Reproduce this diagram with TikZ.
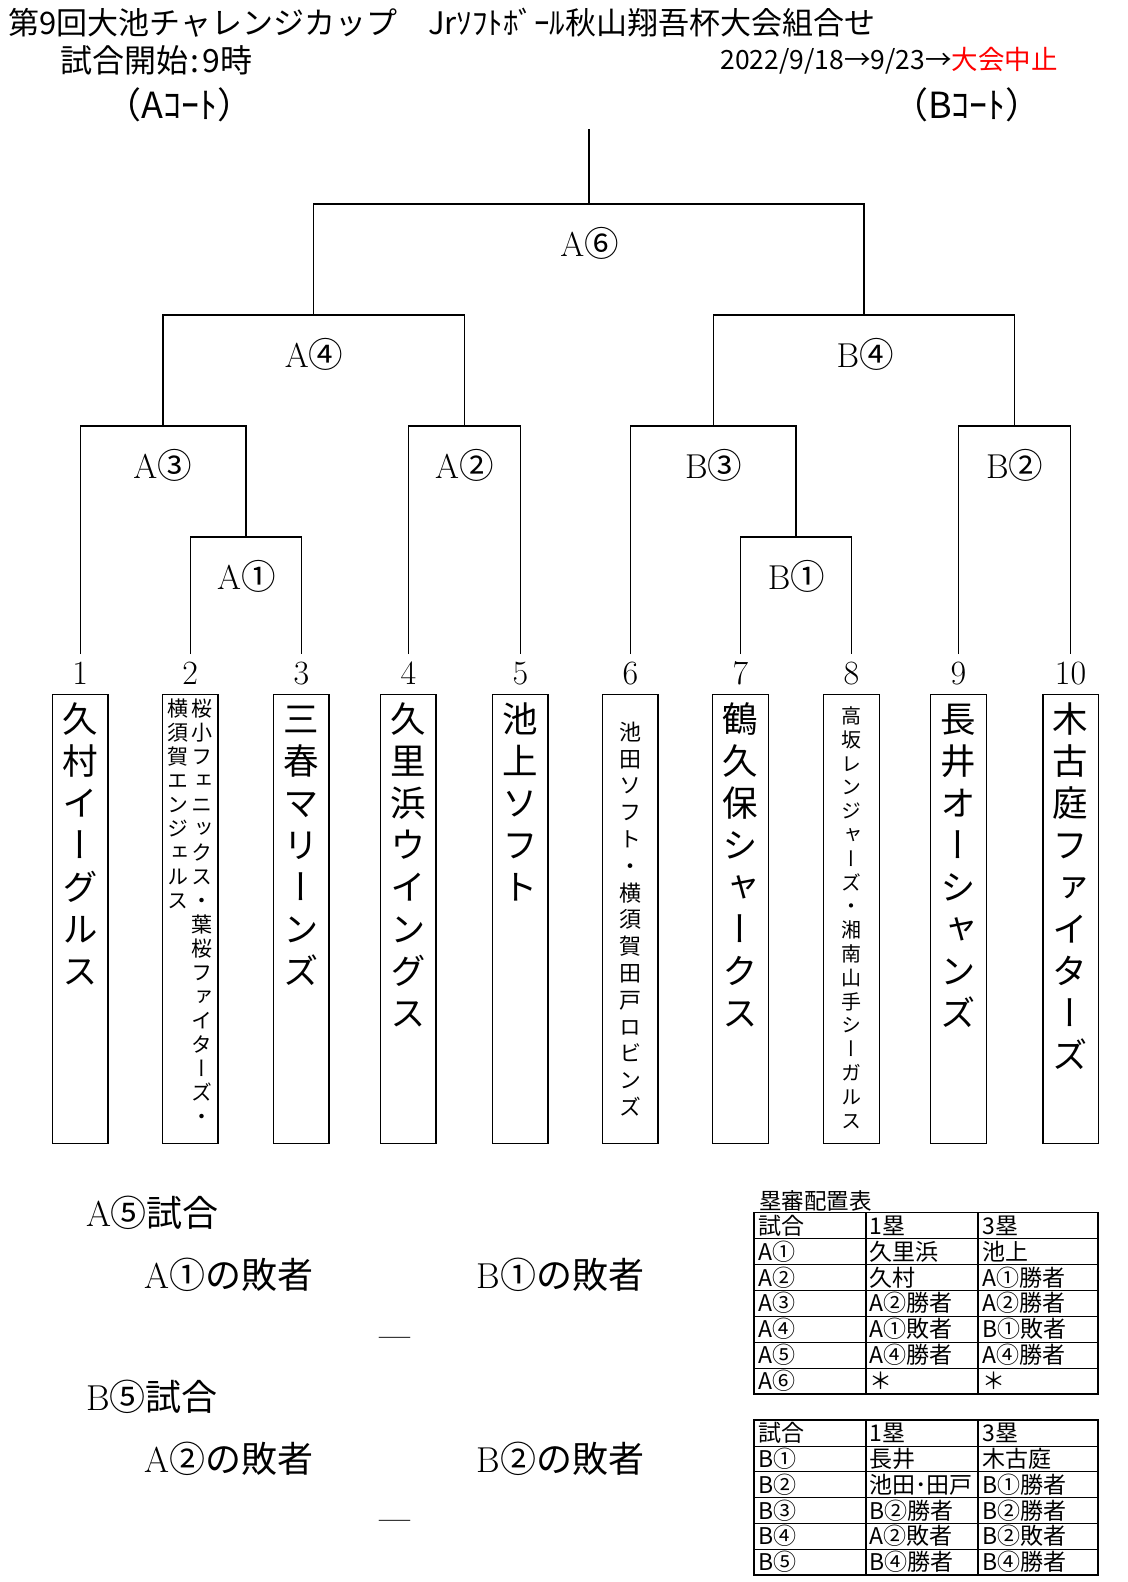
\documentclass[tikz,border=0pt]{standalone}
\usepackage{fontspec}
\newfontfamily\jp{Noto Sans CJK JP}
\newfontfamily\jpv[RawFeature=+vert]{Noto Sans CJK JP}
\makeatletter
\newcommand\vcol[2]{\vbox{\baselineskip=#1\lineskiplimit=-100pt\lineskip=0pt\relax\vcol@aux#2\relax}}
\def\vcol@aux#1{\ifx\relax#1\else\hbox to 1em{\hss#1\hss\vrule height .88em depth .12em width 0pt}\expandafter\vcol@aux\fi}
\makeatother
\begin{document}
\begin{tikzpicture}[x=1.0095pt,y=-1.0095pt,
  br/.style={line width=1.4pt},
  lbl/.style={inner sep=0pt,font=\fontsize{34.5}{40}\selectfont},
  num/.style={inner sep=0pt,font=\fontsize{34}{38}\selectfont},
  teambox/.style={draw,line width=1.4pt,minimum width=55.5pt,minimum height=449pt,inner sep=0pt},
  bigv/.style={anchor=north,inner sep=0pt,font=\jpv\fontsize{35.5}{42}\selectfont},
  hd/.style={anchor=west,inner sep=0pt},
  big/.style={anchor=west,inner sep=0pt,font=\fontsize{36}{40}\selectfont},
  dashtxt/.style={inner sep=0pt,font=\bfseries\fontsize{28}{32}\selectfont},
  cell/.style={anchor=west,inner sep=0pt,font=\jp\fontsize{23}{26}\selectfont},
  tbl/.style={line width=1.8pt},
  rowl/.style={line width=1.1pt}]
\fill[white] (0,0) rectangle (1116.4,1567.1);
\useasboundingbox (0,0) rectangle (1116.4,1567.1);
% header
\node[hd,font=\jp\fontsize{31}{36}\selectfont] (title) at (8,22) {第9回大池チャレンジカップ　Jrｿﾌﾄﾎﾞｰﾙ秋山翔吾杯大会組合せ};
\node[hd,font=\jp\fontsize{32}{36}\selectfont] (start) at (60,60) {試合開始\kern2pt:\kern3pt9時};
\node[anchor=east,inner sep=0pt,font=\jp\fontsize{26.5}{30}\selectfont] (date) at (1048,60) {2022/9/18→9/23→\textcolor{red}{大会中止}};
\node[inner sep=0pt,font=\jp\fontsize{36}{40}\selectfont] (acourt) at (178,104) {（Aｺｰﾄ）};
\node[inner sep=0pt,font=\jp\fontsize{36}{40}\selectfont] (bcourt) at (958,104) {（Bｺｰﾄ）};
% leaves
\foreach \x [count=\i] in {79.5,188.5,298.5,404.5,515.5,624.5,733.5,843.5,949.5,1060.5}{
  \coordinate (L\i) at (\x,648);
  \node[num] (N\i) at (\x,667) {\i};
  \node[teambox] (T\i) at (\x,910.5) {};
}
% matches
\coordinate (A1) at (243.5,532);
\coordinate (A3) at (161.5,422);
\coordinate (A2) at (460,422);
\coordinate (A4) at (310.75,312);
\coordinate (B1) at (788.5,532);
\coordinate (B3) at (706.5,422);
\coordinate (B2) at (1005,422);
\coordinate (B4) at (855.75,312);
\coordinate (A6) at (583.25,202);
\coordinate (top) at (583.25,128);
\draw[br] (L2) |- (A1) -| (L3);
\draw[br] (L1) |- (A3) -| (A1);
\draw[br] (L4) |- (A2) -| (L5);
\draw[br] (A3) |- (A4) -| (A2);
\draw[br] (L7) |- (B1) -| (L8);
\draw[br] (L6) |- (B3) -| (B1);
\draw[br] (L9) |- (B2) -| (L10);
\draw[br] (B3) |- (B4) -| (B2);
\draw[br] (A4) |- (A6) -| (B4);
\draw[br] (A6) -- (top);
% match labels
\node[lbl] (tA6) at (584,241) {A{\jp ⑥}};
\node[lbl] (tA4) at (311,351) {A{\jp ④}};
\node[lbl] (tB4) at (857,351) {B{\jp ④}};
\node[lbl] (tA3) at (161,461) {A{\jp ③}};
\node[lbl] (tA2) at (460,461) {A{\jp ②}};
\node[lbl] (tB3) at (707,461) {B{\jp ③}};
\node[lbl] (tB2) at (1005,461) {B{\jp ②}};
\node[lbl] (tA1) at (244,571) {A{\jp ①}};
\node[lbl] (tB1) at (789,571) {B{\jp ①}};
% team names
\node[bigv] (n1) at (79.5,694) {\vcol{42pt}{久村イーグルス}};
\node[anchor=north,inner sep=0pt,font=\jpv\fontsize{21}{24}\selectfont] (n2a) at (200,691.5) {\vcol{24pt}{桜小フェニックス・葉桜ファイターズ・}};
\node[anchor=north,inner sep=0pt,font=\jpv\fontsize{21}{24}\selectfont] (n2b) at (176,691.5) {\vcol{24pt}{横須賀エンジェルス}};
\node[bigv] (n3) at (298.5,694) {\vcol{42pt}{三春マリーンズ}};
\node[bigv] (n4) at (404.5,694) {\vcol{42pt}{久里浜ウイングス}};
\node[bigv] (n5) at (515.5,694) {\vcol{42pt}{池上ソフト}};
\node[anchor=north,inner sep=0pt,font=\jpv\fontsize{22}{26}\selectfont] (n6) at (624.5,714) {\vcol{26.8pt}{池田ソフト・横須賀田戸ロビンズ}};
\node[bigv] (n7) at (733.5,694) {\vcol{42pt}{鶴久保シャークス}};
\node[anchor=north,inner sep=0pt,font=\jpv\fontsize{20}{24}\selectfont] (n8) at (843.5,699) {\vcol{23.8pt}{高坂レンジャーズ・湘南山手シーガルス}};
\node[bigv] (n9) at (949.5,694) {\vcol{42pt}{長井オーシャンズ}};
\node[bigv] (n10) at (1060.5,694) {\vcol{42pt}{木古庭ファイターズ}};
% lower left
\node[big] (a5) at (85,1201) {A{\jp ⑤試合}};
\node[big] (a1l) at (143,1263) {A{\jp ①の敗者}};
\node[big] (b1l) at (472,1263) {B{\jp ①の敗者}};
\node[dashtxt] (d1) at (391,1329) {—};
\node[big] (b5) at (85,1384) {B{\jp ⑤試合}};
\node[big] (a2l) at (143,1445) {A{\jp ②の敗者}};
\node[big] (b2l) at (472,1445) {B{\jp ②の敗者}};
\node[dashtxt] (d2) at (391,1510) {—};
% table 1
\node[hd,font=\jp\fontsize{22.5}{26}\selectfont] (ttl) at (752,1190) {塁審配置表};
\foreach \k in {1,...,6}{\draw[rowl] (747,{1201+25.7*\k}) -- (1088,{1201+25.7*\k});}
\draw[tbl] (747,1201) rectangle (1088,1381);
\draw[tbl] (858,1201) -- (858,1381);
\draw[tbl] (969,1201) -- (969,1381);
\foreach \a/\b/\c [count=\k from 0] in {試合/1塁/3塁,A①/久里浜/池上,A②/久村/A①勝者,A③/A②勝者/A②勝者,A④/A①敗者/B①敗者,A⑤/A④勝者/A④勝者,A⑥/＊/＊}{
  \node[cell] (p\k a) at (751,{1201+25.7*(\k+0.5)}) {\a};
  \node[cell] (p\k b) at (861,{1201+25.7*(\k+0.5)}) {\b};
  \node[cell] (p\k c) at (973,{1201+25.7*(\k+0.5)}) {\c};
}
% table 2
\foreach \k in {1,...,5}{\draw[rowl] (747,{1407+25.5*\k}) -- (1088,{1407+25.5*\k});}
\draw[tbl] (747,1407) rectangle (1088,1560);
\draw[tbl] (858,1407) -- (858,1560);
\draw[tbl] (969,1407) -- (969,1560);
\foreach \a/\b/\c [count=\k from 0] in {試合/1塁/3塁,B①/長井/木古庭,B②/池田･田戸/B①勝者,B③/B②勝者/B②勝者,B④/A②敗者/B②敗者,B⑤/B④勝者/B④勝者}{
  \node[cell] (q\k a) at (751,{1407+25.5*(\k+0.5)}) {\a};
  \node[cell] (q\k b) at (861,{1407+25.5*(\k+0.5)}) {\b};
  \node[cell] (q\k c) at (973,{1407+25.5*(\k+0.5)}) {\c};
}
\end{tikzpicture}
\end{document}
